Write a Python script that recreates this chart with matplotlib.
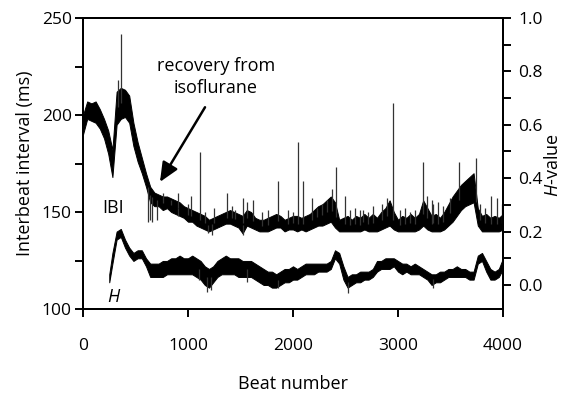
import matplotlib
matplotlib.use('Agg')
import numpy as np
import matplotlib.pyplot as plt
from matplotlib.ticker import MultipleLocator, FormatStrFormatter

plt.rcParams['font.family'] = ['Open Sans', 'DejaVu Sans']
plt.rcParams['font.size'] = 13
plt.rcParams['mathtext.fontset'] = 'custom'
plt.rcParams['mathtext.it'] = 'Open Sans:italic'
plt.rcParams['mathtext.rm'] = 'Open Sans'

# === IBI band (low / high edge, ms), read every 40 beats ===
ibi_beats = list(range(0, 4001, 40))
ibi_lo = [190, 198, 197, 196, 193, 188, 180, 168, 195, 198,
          199, 196, 184, 176, 170, 163, 155, 153, 153, 151,
          152, 150, 149, 148, 147, 145, 145, 143, 142, 141,
          140, 141, 142, 143, 144, 144, 143, 142, 139, 143,
          142, 141, 140, 140, 140, 141, 142, 142, 140, 141,
          141, 140, 141, 140, 141, 142, 143, 143, 144, 145,
          142, 140, 140, 140, 140, 140, 140, 141, 140, 140,
          140, 141, 142, 143, 141, 140, 140, 140, 140, 140,
          141, 143, 141, 140, 140, 140, 141, 143, 145, 148,
          151, 153, 154, 155, 143, 140, 140, 140, 140, 140,
          141]
ibi_hi = [200, 207, 206, 207, 203, 198, 192, 182, 212, 214,
          213, 210, 196, 186, 178, 170, 163, 160, 159, 158,
          158, 157, 156, 155, 153, 152, 151, 150, 149, 148,
          146, 147, 148, 149, 150, 151, 150, 149, 148, 151,
          150, 147, 146, 146, 147, 148, 149, 148, 146, 147,
          148, 148, 147, 148, 149, 151, 153, 154, 156, 158,
          155, 146, 147, 148, 146, 148, 147, 149, 147, 149,
          147, 150, 152, 156, 150, 146, 148, 147, 149, 147,
          149, 156, 152, 148, 149, 147, 150, 154, 158, 161,
          164, 166, 168, 170, 152, 148, 149, 147, 148, 147,
          149]

# isolated beats sticking out of the band (beat, ms)
spike_beats = [330, 359, 620, 640, 660, 700, 760, 840, 900, 905, 1000, 1030,
               1110, 1160, 1190, 1230, 1250, 1368, 1420, 1450, 1520, 1527,
               1560, 1616, 1700, 1760, 1860, 1950, 2000, 2052, 2100, 2180,
               2228, 2276, 2324, 2370, 2408, 2497, 2545, 2593, 2641, 2670,
               2717, 2765, 2845, 2892, 2955, 3019, 3067, 3114, 3162, 3235,
               3273, 3321, 3336, 3384, 3432, 3495, 3580, 3740, 3780, 3828,
               3890, 3940, 3987]
spike_vals = [218, 242, 145, 146, 145, 146, 160, 156, 148, 160, 154, 158,
              181, 150, 139, 138, 152, 160, 153, 151, 138, 157,
              155, 156, 150, 151, 166, 151, 150, 186, 166, 157,
              152, 154, 156, 162, 173, 158, 151, 152, 151, 151,
              150, 153, 154, 157, 206, 151, 152, 150, 151, 176,
              158, 156, 154, 155, 153, 157, 176, 178, 154, 152,
              158, 157, 154]

# === H band (low / high edge) ===
h_beats = [250, 280, 320] + list(range(360, 4001, 40))
h_lo = [0.01, 0.08, 0.17, 0.18, 0.14, 0.11, 0.09, 0.10, 0.10, 0.07,
        0.03, 0.03, 0.03, 0.03, 0.04, 0.04, 0.04, 0.04, 0.04, 0.04,
        0.04, 0.03, 0.02, 0.00, -0.01, 0.01, 0.03, 0.04, 0.04, 0.04,
        0.04, 0.03, 0.03, 0.03, 0.03, 0.02, 0.01, 0.00, 0.00, -0.01,
        -0.01, 0.00, 0.01, 0.01, 0.02, 0.02, 0.03, 0.04, 0.04, 0.04,
        0.05, 0.05, 0.05, 0.06, 0.10, 0.08, 0.02, -0.01, 0.00, 0.01,
        0.01, 0.02, 0.02, 0.03, 0.05, 0.06, 0.06, 0.06, 0.07, 0.05,
        0.04, 0.05, 0.04, 0.04, 0.04, 0.03, 0.02, 0.00, 0.01, 0.01,
        0.02, 0.03, 0.03, 0.03, 0.03, 0.03, 0.02, 0.02, 0.08, 0.09,
        0.05, 0.02, 0.02, 0.03, 0.06]
h_hi = [0.04, 0.12, 0.20, 0.21, 0.17, 0.14, 0.12, 0.13, 0.13, 0.10,
        0.08, 0.08, 0.08, 0.09, 0.09, 0.10, 0.10, 0.11, 0.10, 0.10,
        0.11, 0.10, 0.09, 0.07, 0.06, 0.07, 0.09, 0.10, 0.11, 0.10,
        0.10, 0.10, 0.09, 0.09, 0.09, 0.08, 0.07, 0.06, 0.05, 0.05,
        0.04, 0.05, 0.06, 0.06, 0.07, 0.06, 0.07, 0.08, 0.08, 0.08,
        0.08, 0.08, 0.08, 0.09, 0.13, 0.12, 0.07, 0.03, 0.04, 0.04,
        0.05, 0.05, 0.05, 0.06, 0.09, 0.09, 0.10, 0.10, 0.10, 0.09,
        0.08, 0.08, 0.07, 0.08, 0.07, 0.06, 0.05, 0.04, 0.04, 0.05,
        0.05, 0.06, 0.06, 0.07, 0.06, 0.06, 0.05, 0.05, 0.11, 0.12,
        0.09, 0.06, 0.05, 0.06, 0.10]
h_spike_beats = [1100, 1180, 1215, 1560, 1860, 2520, 3330]
h_spike_vals = [0.02, -0.025, -0.02, 0.01, -0.01, -0.03, -0.01]

fig = plt.figure(figsize=(5.62, 3.96), dpi=100)
ax = fig.add_axes([0.1477, 0.2197, 0.7473, 0.7348])
ax2 = ax.twinx()

ax.fill_between(ibi_beats, ibi_lo, ibi_hi, color='black', lw=0.7)
mid = np.interp(spike_beats, ibi_beats, (np.array(ibi_lo) + np.array(ibi_hi)) / 2.0)
ax.vlines(spike_beats, mid, spike_vals, color='#333333', lw=0.9)

ax2.fill_between(h_beats, h_lo, h_hi, color='black', lw=0.7)
hmid = np.interp(h_spike_beats, h_beats, (np.array(h_lo) + np.array(h_hi)) / 2.0)
ax2.vlines(h_spike_beats, hmid, h_spike_vals, color='#333333', lw=0.9)

ax.set_xlim(0, 4000)
ax.set_ylim(100, 250)
ax2.set_ylim(-0.09, 1.0)

ax.xaxis.set_major_locator(MultipleLocator(1000))
ax.yaxis.set_major_locator(MultipleLocator(50))
ax.yaxis.set_minor_locator(MultipleLocator(25))
ax2.yaxis.set_major_locator(MultipleLocator(0.2))
ax2.yaxis.set_minor_locator(MultipleLocator(0.1))
ax2.yaxis.set_major_formatter(FormatStrFormatter('%.1f'))

for a in (ax, ax2):
    for s in a.spines.values():
        s.set_linewidth(1.4)
    a.tick_params(which='both', direction='out', length=6, width=1.4,
                  labelsize=12.5)
ax.tick_params(axis='x', pad=15)
ax.tick_params(axis='y', pad=2)
ax2.tick_params(axis='y', pad=5)

ax.set_ylabel("Interbeat interval (ms)", labelpad=6)
fig.text(293 / 562, 1 - 384 / 396, "Beat number", ha='center', va='center')
fig.text(553 / 562, 1 - 165 / 396, "$\\it{H}$-value", ha='center', va='center',
         rotation=90)

ax.text(290, 152, "IBI", ha='center', va='center')
ax.text(290, 106, "H", ha='center', va='center', style='italic')
ax.text(1267, 219.5, "recovery from\nisoflurane", ha='center', va='center',
        linespacing=1.25)
ax.annotate("", xy=(733, 165.5), xytext=(1162, 204),
            arrowprops=dict(arrowstyle='-|>,head_length=0.9,head_width=0.4',
                            color='black', lw=1.8, shrinkA=0, shrinkB=0))

fig.savefig("out.png", dpi=100)
